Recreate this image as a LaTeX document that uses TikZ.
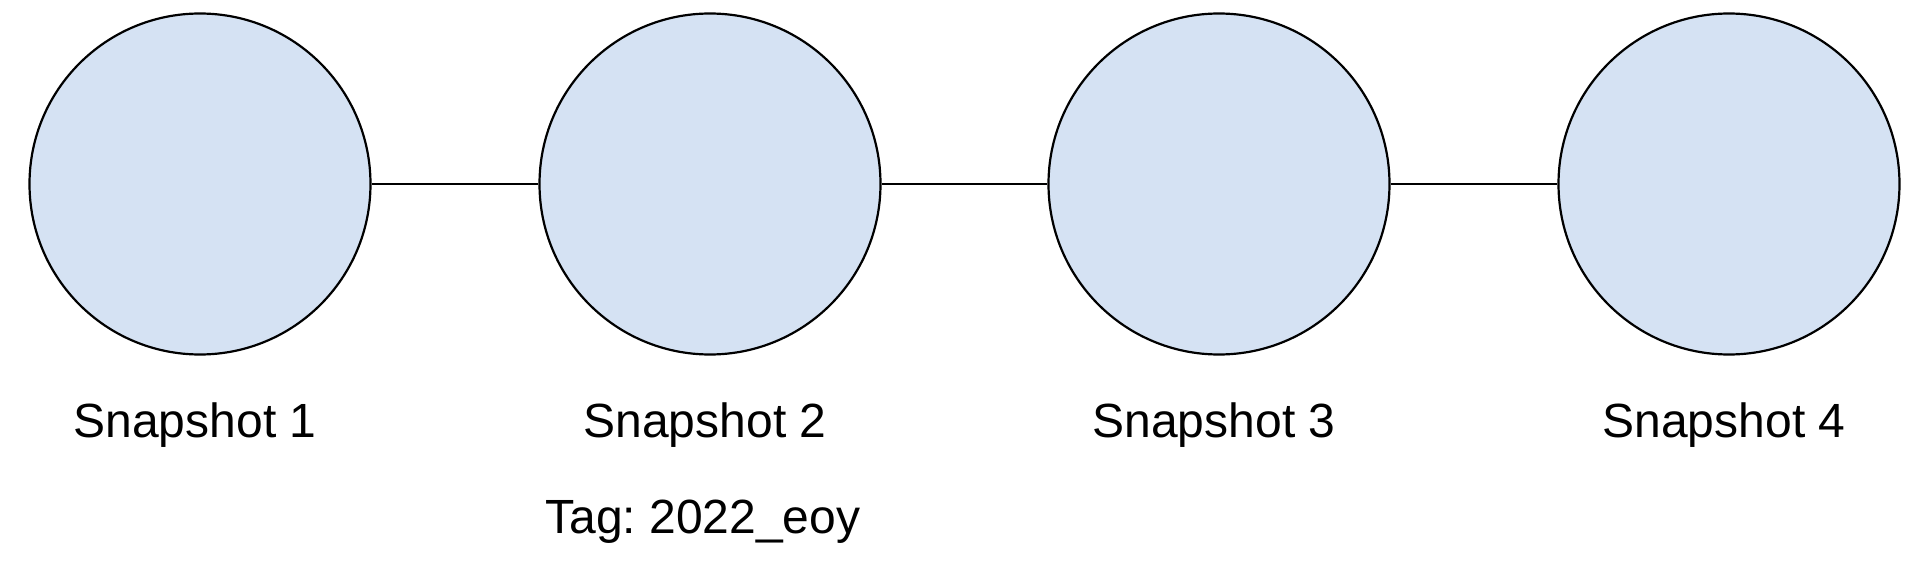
\documentclass[tikz,border=0pt]{standalone}
\usepackage{fontspec}
\setmainfont{Liberation Sans}
\frenchspacing
\definecolor{snapfill}{HTML}{D5E2F3}
\begin{document}
\begin{tikzpicture}[x=1pt,y=-1pt,
  snap/.style={circle,draw=black,line width=2.2pt,fill=snapfill,minimum size=341pt,inner sep=0pt},
  lbl/.style={anchor=base,inner sep=0pt,font=\fontsize{48}{56}\selectfont},
  link/.style={line width=2.2pt}]
\useasboundingbox (0,0) rectangle (1920,564);
\node[snap] (s1) at (200,184) {};
\node[snap] (s2) at (710,184) {};
\node[snap] (s3) at (1219,184) {};
\node[snap] (s4) at (1729,184) {};
\draw[link] (s1) -- (s2);
\draw[link] (s2) -- (s3);
\draw[link] (s3) -- (s4);
\node[lbl] (l1) at (195,437) {Snapshot 1};
\node[lbl] (l2) at (705,437) {Snapshot 2};
\node[lbl] (l3) at (1214,437) {Snapshot 3};
\node[lbl] (l4) at (1724,437) {Snapshot 4};
\node[lbl] (tag) at (703,533) {Tag: 2022\_eoy};
\end{tikzpicture}
\end{document}
